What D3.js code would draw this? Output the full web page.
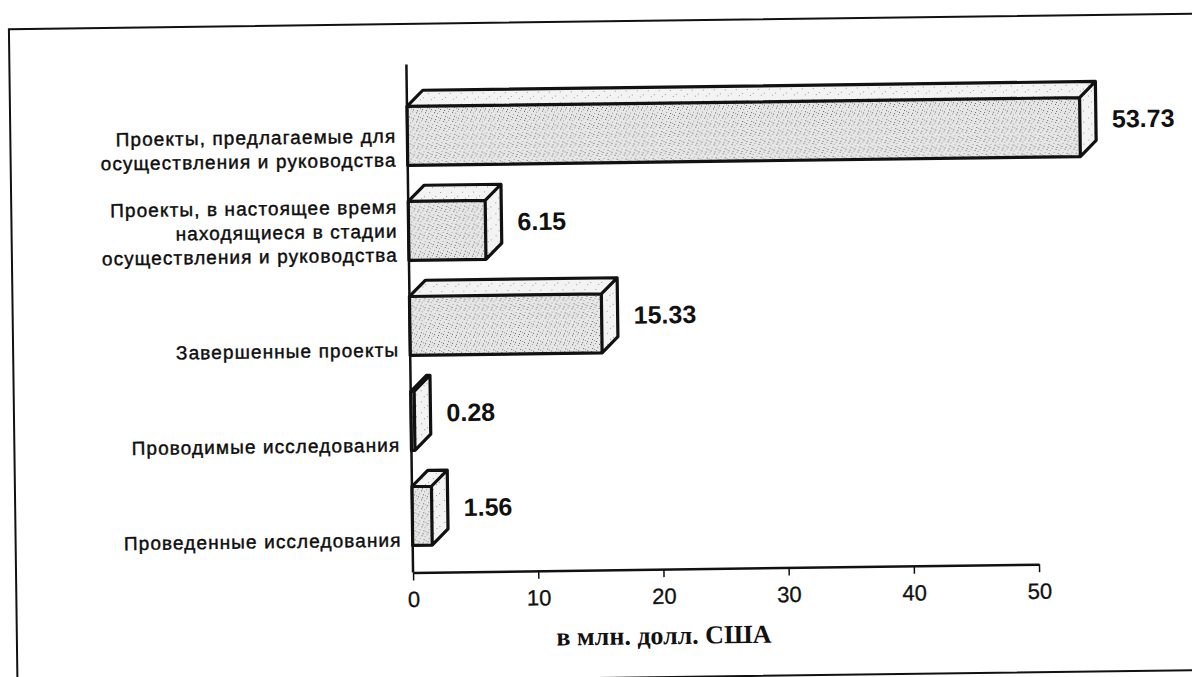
<!DOCTYPE html>
<html>
<head>
<meta charset="utf-8">
<script src="https://cdn.jsdelivr.net/npm/d3@7"></script>
<style>
  body { margin: 0; background: #fff; }
  text { font-family: "Liberation Sans", Arial, sans-serif; fill: #111; }
</style>
</head>
<body>
<div id="chart"></div>
<script>
// Categories, top to bottom (each label is split into its printed lines)
const categories = [
  ["Проекты, предлагаемые для", "осуществления и руководства"],
  ["Проекты, в настоящее время", "находящиеся в стадии", "осуществления и руководства"],
  ["Завершенные проекты"],
  ["Проводимые исследования"],
  ["Проведенные исследования"]
];
const values = [53.73, 6.15, 15.33, 0.28, 1.56];
const valueLabels = ["53.73", "6.15", "15.33", "0.28", "1.56"];
const xTicks = [0, 10, 20, 30, 40, 50];
const axisTitle = "в млн. долл. США";

const W = 1192, H = 677;
const depth = { dx: 16, dy: -16 };

const svg = d3.select("#chart").append("svg")
  .attr("width", W)
  .attr("height", H);

// stippled fill, like the printed original
const defs = svg.append("defs");
const pat = defs.append("pattern")
  .attr("id", "stipple")
  .attr("patternUnits", "userSpaceOnUse")
  .attr("width", 9).attr("height", 9);
pat.append("rect").attr("width", 9).attr("height", 9).attr("fill", "#e6e6e6");
[[1, 1], [5, 2], [3, 5], [7, 6], [0, 7], [6, 0], [8, 3], [2, 8]].forEach((p, i) => {
  pat.append("rect").attr("x", p[0]).attr("y", p[1])
    .attr("width", 1).attr("height", 1)
    .attr("fill", i % 2 ? "#666" : "#9a9a9a");
});
const pat2 = defs.append("pattern")
  .attr("id", "stippleLight")
  .attr("patternUnits", "userSpaceOnUse")
  .attr("width", 11).attr("height", 11);
pat2.append("rect").attr("width", 11).attr("height", 11).attr("fill", "#f3f3f3");
[[2, 3], [8, 7], [5, 9]].forEach(p => {
  pat2.append("rect").attr("x", p[0]).attr("y", p[1])
    .attr("width", 1).attr("height", 1).attr("fill", "#999");
});

// the scan is tilted a little
const g = svg.append("g").attr("transform", "rotate(-0.75 596 338)");

// outer frame
g.append("rect")
  .attr("x", 13).attr("y", 21.5)
  .attr("width", 1250).attr("height", 656.5)
  .attr("fill", "none").attr("stroke", "#111").attr("stroke-width", 2);

const x = d3.scaleLinear().domain([0, 50]).range([410, 1036]);
const y = d3.scaleBand()
  .domain(d3.range(categories.length))
  .range([85, 562])
  .paddingInner(0.38)
  .paddingOuter(0.2);

const axisY = 570;

// bars as 3D boxes
const bars = g.append("g").selectAll("g").data(values).join("g");
bars.each(function(v, i) {
  const b = d3.select(this);
  const x0 = x(0), x1 = x(v), y0 = y(i), y1 = y(i) + y.bandwidth();
  const dx = depth.dx, dy = depth.dy;
  // top face
  b.append("path")
    .attr("d", `M${x0},${y0}L${x0 + dx},${y0 + dy}L${x1 + dx},${y0 + dy}L${x1},${y0}Z`)
    .attr("fill", "url(#stippleLight)");
  // right side
  b.append("path")
    .attr("d", `M${x1},${y0}L${x1 + dx},${y0 + dy}L${x1 + dx},${y1 + dy}L${x1},${y1}Z`)
    .attr("fill", "url(#stippleLight)");
  // front
  b.append("rect")
    .attr("x", x0).attr("y", y0)
    .attr("width", x1 - x0).attr("height", y1 - y0)
    .attr("fill", "url(#stipple)");
  // outlines
  b.append("path")
    .attr("d", `M${x0},${y0}L${x0 + dx},${y0 + dy}L${x1 + dx},${y0 + dy}L${x1 + dx},${y1 + dy}L${x1},${y1}L${x0},${y1}Z` +
               `M${x0},${y0}L${x1},${y0}L${x1 + dx},${y0 + dy}M${x1},${y0}L${x1},${y1}`)
    .attr("fill", "none")
    .attr("stroke", "#111")
    .attr("stroke-width", 3.2)
    .attr("stroke-linejoin", "round");
  // value label
  b.append("text")
    .attr("x", x1 + dx + 16)
    .attr("y", y0 + y.bandwidth() / 2 + dy / 2)
    .attr("dy", "0.35em")
    .attr("font-size", 25)
    .attr("font-weight", "bold")
    .text(valueLabels[i]);
});

// category labels: last line sits at the bar's bottom edge
const labels = g.append("g").selectAll("text").data(categories).join("text")
  .attr("text-anchor", "end")
  .attr("font-size", 19)
  .attr("letter-spacing", 1.1)
  .attr("fill", "#000")
  .attr("stroke", "#000")
  .attr("stroke-width", 0.4);
labels.each(function(lines, i) {
  const base = y(i) + y.bandwidth() + 1;
  d3.select(this).selectAll("tspan").data(lines).join("tspan")
    .attr("x", 399)
    .attr("y", (d, k) => base - (lines.length - 1 - k) * 24)
    .text(d => d);
});

// vertical axis line
g.append("line")
  .attr("x1", x(0)).attr("x2", x(0))
  .attr("y1", 62).attr("y2", axisY)
  .attr("stroke", "#111").attr("stroke-width", 2.5);

// bottom axis
const xAxis = d3.axisBottom(x).tickValues(xTicks).tickSize(8).tickPadding(11).tickSizeOuter(0);
const ax = g.append("g")
  .attr("transform", `translate(0,${axisY})`)
  .call(xAxis);
ax.select(".domain").attr("stroke", "#111").attr("stroke-width", 2.5);
ax.selectAll(".tick line").attr("stroke", "#111").attr("stroke-width", 1.5);
ax.selectAll(".tick text")
  .attr("font-family", "Liberation Sans, Arial, sans-serif")
  .attr("font-size", 22)
  .attr("fill", "#111")
  .attr("stroke", "#111")
  .attr("stroke-width", 0.3);

// axis title
g.append("text")
  .attr("x", 660).attr("y", 645)
  .attr("text-anchor", "middle")
  .attr("style", "font-family: 'Liberation Serif', serif")
  .attr("font-size", 26)
  .attr("font-weight", "bold")
  .text(axisTitle);
</script>
</body>
</html>
